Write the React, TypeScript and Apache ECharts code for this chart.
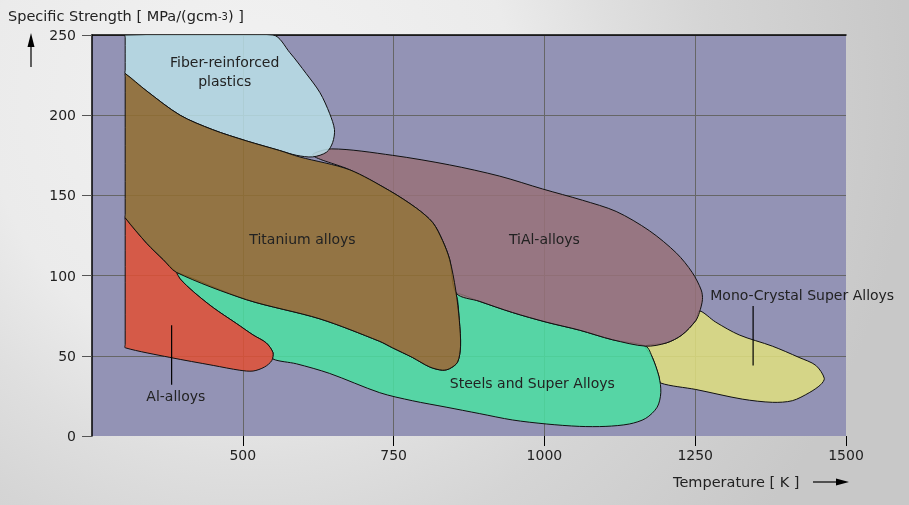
import React, { useEffect, useRef } from "react";
import * as echarts from "echarts";

// ---- axis ----
const xTicks = [250, 500, 750, 1000, 1250, 1500];
const yTicks = [0, 50, 100, 150, 200, 250];

// ---- regions (Temperature K, Specific strength) ----
const fiberX = [305, 550, 578, 605, 628, 644, 652, 649, 639, 616, 589, 561, 506, 450, 396, 341, 305, 305, 305];
const fiberY = [250, 250, 239, 226, 214, 201, 191, 183, 177, 174, 175, 178, 184, 191, 200, 215, 226, 228, 248.5];

const titaniumX = [305, 305, 305, 305, 341, 368, 390, 506, 628, 727, 748, 781, 810, 831, 843, 856, 861, 859, 853, 843, 831, 815, 788, 743, 677, 594, 561, 506, 450, 396, 341];
const titaniumY = [226, 224, 138, 136, 120, 110, 102, 85, 73, 59, 55, 49, 43, 41, 42, 46, 56, 72, 91, 110, 122, 133, 142, 153, 166, 174, 178, 184, 191, 200, 215];

const tialX = [647, 748, 843, 926, 997, 1063, 1119, 1174, 1219, 1245, 1260, 1262, 1257, 1251, 1228, 1202, 1168, 1113, 1058, 1003, 947, 892, 854, 843, 831, 815, 788, 743, 677, 616];
const tialY = [179, 175, 169, 162, 154, 147, 140, 128, 114, 102, 91, 85, 77, 72, 63, 58, 56, 60, 66, 71, 77, 84, 89, 110, 122, 133, 142, 153, 166, 175];

const steelX = [390, 506, 628, 727, 748, 781, 810, 831, 843, 856, 861, 859, 856, 854, 892, 947, 1003, 1058, 1113, 1168, 1179, 1190, 1193, 1187, 1168, 1141, 1102, 1058, 1003, 947, 892, 837, 781, 727, 644, 589, 550, 550, 539, 517, 490, 451, 418, 396];
const steelY = [102, 85, 73, 59, 55, 49, 43, 41, 42, 46, 56, 72, 85, 89, 84, 77, 71, 66, 60, 56, 49, 37, 27, 18, 11, 7.5, 6, 6, 7.5, 10, 14, 18, 22, 27, 39, 45, 48, 52, 58, 63, 70, 80, 90, 98];

const alX = [305, 305, 305, 305, 379, 451, 495, 517, 536, 548, 550, 539, 517, 490, 451, 418, 396, 390, 368, 341];
const alY = [136, 134, 57, 55, 49, 44, 41, 40.5, 43, 47, 52, 58, 63, 70, 80, 90, 98, 102, 110, 120];

const monoX = [1257, 1284, 1323, 1378, 1422, 1450, 1464, 1458, 1439, 1411, 1378, 1328, 1251, 1193, 1190, 1179, 1168, 1202, 1228, 1251];
const monoY = [78, 71, 63, 56, 49, 44, 36, 32, 27, 22, 21, 23, 29, 33, 37, 49, 56, 58, 63, 72];

// ---- labels ----
const labelTexts = ["Fiber-reinforced\nplastics", "Titanium alloys", "TiAl-alloys", "Mono-Crystal Super Alloys", "Steels and Super Alloys", "Al-alloys"];
const labelX = [470, 599, 1000, 1275, 980, 389];
const labelY = [227, 123, 123, 88, 33, 25];
const labelAlign = ["center", "center", "center", "left", "center", "center"];
// leader lines: [x, yFrom, yTo]
const leaderMono = [1346, 81, 44];
const leaderAl = [382, 69, 32];

const regions = [
  { name: "Mono-Crystal Super Alloys", x: monoX, y: monoY, fill: "rgba(225,225,127,0.85)" },
  { name: "Steels and Super Alloys", x: steelX, y: steelY, fill: "rgba(75,225,162,0.85)" },
  { name: "TiAl-alloys", x: tialX, y: tialY, fill: "rgba(152,113,121,0.85)" },
  { name: "Al-alloys", x: alX, y: alY, fill: "rgba(225,80,53,0.85)" },
  { name: "Fiber-reinforced plastics", x: fiberX, y: fiberY, fill: "rgba(186,223,232,0.85)" },
  { name: "Titanium alloys", x: titaniumX, y: titaniumY, fill: "rgba(147,110,48,0.85)" },
];

const FONT = '"DejaVu Sans", Verdana, sans-serif';

export default function App() {
  const ref = useRef<HTMLDivElement>(null);
  useEffect(() => {
    if (!ref.current) return;
    const chart = echarts.init(ref.current, null, { renderer: "svg" });
    const option: any = {
      animation: false,
      backgroundColor: "transparent",
      grid: {
        left: 92, right: 63, top: 35, bottom: 69,
        show: true, backgroundColor: "#9393b5", borderWidth: 0, containLabel: false,
      },
      xAxis: [
        {
          type: "value", min: xTicks[0], max: xTicks[xTicks.length - 1], interval: 250,
          axisLine: { show: false },
          axisTick: { show: true, length: 10, lineStyle: { color: "#000", width: 1 } },
          axisLabel: {
            showMinLabel: false, margin: 12, color: "#222", fontSize: 14, fontFamily: FONT,
            formatter: (v: number) => String(v),
          },
          splitLine: { show: true, showMinLine: false, showMaxLine: false, lineStyle: { color: "#666", width: 1 } },
        },
        {
          type: "value", position: "top", min: xTicks[0], max: xTicks[xTicks.length - 1], interval: 250,
          axisLine: { show: true, onZero: false, lineStyle: { color: "#000", width: 1.5 } },
          axisTick: { show: false }, axisLabel: { show: false }, splitLine: { show: false },
        },
      ],
      yAxis: {
        type: "value", min: yTicks[0], max: yTicks[yTicks.length - 1], interval: 50,
        axisLine: { show: true, onZero: false, lineStyle: { color: "#000", width: 1.5 } },
        axisTick: { show: true, length: 10, lineStyle: { color: "#555", width: 1 } },
        axisLabel: { margin: 16, color: "#222", fontSize: 14, fontFamily: FONT },
        splitLine: { show: true, showMinLine: false, lineStyle: { color: "#666", width: 1 } },
      },
      series: [
        {
          type: "custom",
          clip: true,
          xAxisIndex: 0,
          data: regions.map((r, i) => [r.x[0], r.y[0], i]),
          encode: { x: 0, y: 1 },
          renderItem: (params: any, api: any) => {
            const r = regions[params.dataIndex];
            const pts = r.x.map((x: number, i: number) => api.coord([x, r.y[i]]));
            return {
              type: "polygon",
              shape: { points: pts, smooth: 0.3 },
              style: { fill: r.fill, stroke: "#111", lineWidth: 1 },
            };
          },
          z: 3,
        },
        {
          type: "custom",
          clip: false,
          xAxisIndex: 0,
          data: labelTexts.map((t, i) => [labelX[i], labelY[i], i]),
          encode: { x: 0, y: 1 },
          renderItem: (params: any, api: any) => {
            const i = params.dataIndex;
            const p = api.coord([labelX[i], labelY[i]]);
            const children: any[] = [
              {
                type: "text",
                x: p[0], y: p[1],
                style: {
                  text: labelTexts[i], fill: "#222", font: `14px ${FONT}`,
                  align: labelAlign[i], verticalAlign: "middle", lineHeight: 19,
                },
              },
            ];
            const leader = i === 3 ? leaderMono : i === 5 ? leaderAl : null;
            if (leader) {
              const a = api.coord([leader[0], leader[1]]);
              const b = api.coord([leader[0], leader[2]]);
              children.push({
                type: "line",
                shape: { x1: a[0], y1: a[1], x2: b[0], y2: b[1] },
                style: { stroke: "#000", lineWidth: 1.2 },
              });
            }
            return { type: "group", children };
          },
          z: 5,
        },
      ],
      graphic: [
        {
          type: "text", x: 8, y: 16,
          style: {
            text: "Specific Strength [ MPa/(gcm{sup|-3}) ]",
            fill: "#222", font: `14.5px ${FONT}`, verticalAlign: "middle", lineHeight: 18,
            rich: { sup: { fontSize: 10, fontFamily: FONT, fill: "#222", verticalAlign: "middle", lineHeight: 18 } },
          },
        },
        { type: "line", shape: { x1: 31, y1: 67, x2: 31, y2: 44 }, style: { stroke: "#000", lineWidth: 1.2 } },
        { type: "polygon", shape: { points: [[31, 33], [27.5, 47], [34.5, 47]] }, style: { fill: "#000" } },
        {
          type: "text", x: 673, y: 482,
          style: { text: "Temperature [ K ]", fill: "#222", font: `14.5px ${FONT}`, verticalAlign: "middle" },
        },
        { type: "line", shape: { x1: 813, y1: 482, x2: 840, y2: 482 }, style: { stroke: "#000", lineWidth: 1.2 } },
        { type: "polygon", shape: { points: [[849, 482], [836, 478.5], [836, 485.5]] }, style: { fill: "#000" } },
      ],
    };
    chart.setOption(option);
    return () => chart.dispose();
  }, []);
  return (
    <div
      ref={ref}
      style={{
        position: "fixed", left: 0, top: 0, width: 909, height: 505,
        background:
          "radial-gradient(circle 660px at 250px 100px, #f2f2f2 0%, #ebebeb 40%, #dfdfdf 55%, #d5d5d5 70%, #c8c8c8 100%)",
      }}
    />
  );
}
